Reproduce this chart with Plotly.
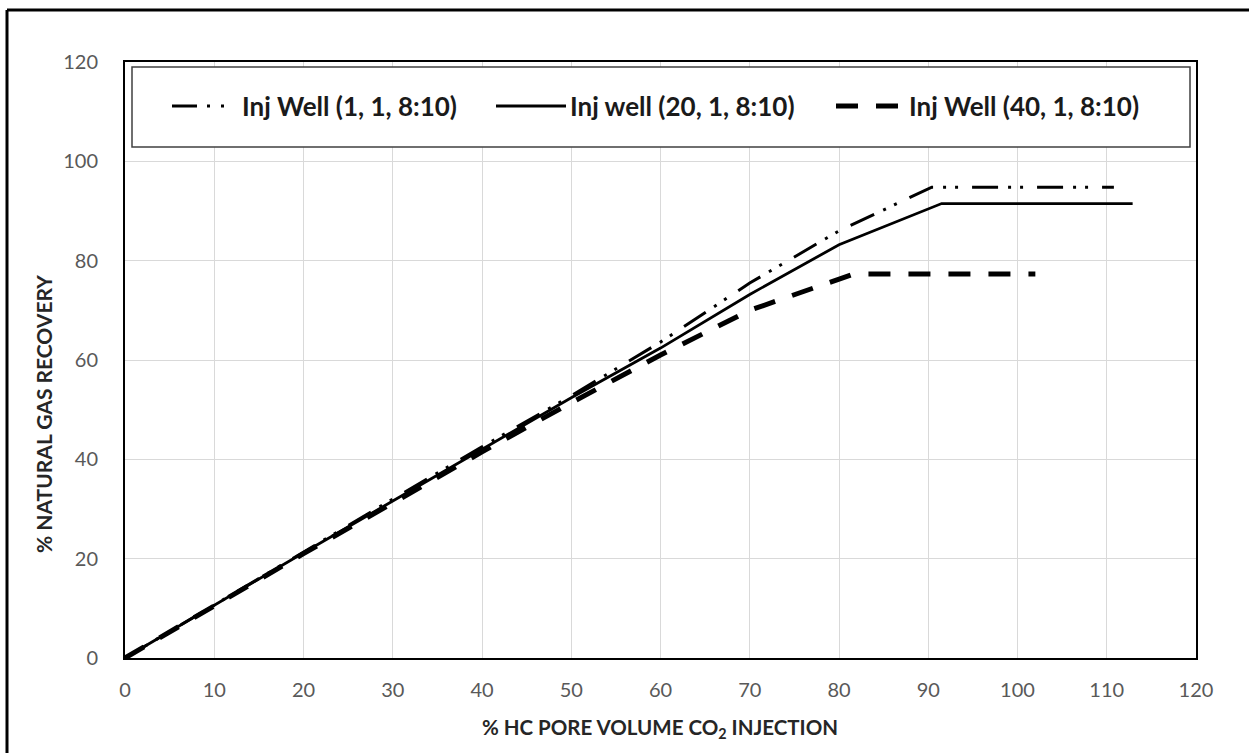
import plotly.graph_objects as go

# Data
x_w1 = [0, 10, 20, 30, 40, 50, 60, 70, 80, 90.4, 110.8]
y_w1 = [0, 10.7, 21.4, 32.0, 42.5, 52.8, 63.6, 75.5, 86.0, 94.8, 94.8]

x_w20 = [0, 10, 20, 30, 40, 50, 60, 70, 80, 91.5, 112.9]
y_w20 = [0, 10.6, 21.2, 31.6, 42.0, 52.4, 62.4, 73.2, 83.2, 91.5, 91.5]

x_w40 = [0, 10, 20, 30, 40, 50, 60, 70, 80, 81.6, 102.0]
y_w40 = [0, 10.5, 21.0, 31.2, 41.5, 51.4, 61.0, 70.0, 76.4, 77.3, 77.3]

names = ["Inj Well (1, 1, 8:10)", "Inj well (20, 1, 8:10)", "Inj Well (40, 1, 8:10)"]
tick_vals = [0, 10, 20, 30, 40, 50, 60, 70, 80, 90, 100, 110, 120]
ytick_vals = [0, 20, 40, 60, 80, 100, 120]

W, H = 1249, 753
ML, MR, MT, MB = 125, 53, 62, 95
pw, ph = W - ML - MR, H - MT - MB

def px_x(p):
    return (p - ML) / pw

def px_y(p):
    return (H - MB - p) / ph

styles = [
    dict(color="black", width=3, dash="26px,10px,3px,9px,3px,14px"),
    dict(color="black", width=2.8),
    dict(color="black", width=5, dash="22px,18px"),
]
legend_styles = [
    dict(color="black", width=3, dash="25px,10px,3px,11px,3px,30px"),
    dict(color="black", width=2.8),
    dict(color="black", width=5, dash="22px,18px"),
]

fig = go.Figure()
for xs, ys, nm, st in zip([x_w1, x_w20, x_w40], [y_w1, y_w20, y_w40], names, styles):
    fig.add_trace(go.Scatter(x=xs, y=ys, mode="lines", name=nm, line=st, showlegend=False))

tickfont = dict(family="Lato, Carlito, Calibri, sans-serif", size=20, color="#595959")
fig.update_xaxes(range=[0, 120], tickvals=tick_vals, showgrid=True, gridcolor="#d9d9d9", gridwidth=1,
                 showline=True, linecolor="black", linewidth=2, mirror=True, zeroline=False,
                 ticks="", tickfont=tickfont, ticklabelstandoff=13)
fig.update_yaxes(range=[0, 120], tickvals=ytick_vals, showgrid=True, gridcolor="#d9d9d9", gridwidth=1,
                 showline=True, linecolor="black", linewidth=2, mirror=True, zeroline=False,
                 ticks="", tickfont=tickfont, ticklabelstandoff=21)

shapes = []
annotations = []
# Legend box
shapes.append(dict(type="rect", xref="paper", yref="paper",
                   x0=px_x(132), x1=px_x(1190), y0=px_y(147), y1=px_y(67),
                   line=dict(color="#404040", width=1.5), fillcolor="white", layer="above"))
# Legend entries (sample start, sample end, text start)
leg_pos = [(172, 228, 240), (496, 566, 568), (836, 902, 907)]
leg_y = 106
legfont = dict(family="Lato, Carlito, Calibri, sans-serif", size=26, color="#1a1a1a", weight="bold")
for (s0, s1, tx), nm, st in zip(leg_pos, names, legend_styles):
    shapes.append(dict(type="line", xref="paper", yref="paper", x0=px_x(s0), x1=px_x(s1),
                       y0=px_y(leg_y), y1=px_y(leg_y), line=st, layer="above"))
    annotations.append(dict(text=nm, xref="paper", yref="paper", x=px_x(tx), y=px_y(leg_y),
                            xanchor="left", yanchor="middle", showarrow=False, font=legfont))

titlefont = dict(family="Lato, Carlito, Calibri, sans-serif", size=20.5, color="#262626", weight="bold")
annotations.append(dict(text="% HC PORE VOLUME CO<sub>2</sub> INJECTION", xref="paper", yref="paper",
                        x=px_x(660), y=px_y(728), xanchor="center", yanchor="middle",
                        showarrow=False, font=titlefont))
annotations.append(dict(text="% NATURAL GAS RECOVERY", xref="paper", yref="paper",
                        x=px_x(43), y=px_y(414), xanchor="center", yanchor="middle",
                        showarrow=False, textangle=-90,
                        font=dict(titlefont, size=21)))

# Outer frame lines (top and left)
shapes.append(dict(type="line", xref="paper", yref="paper", x0=px_x(7), x1=px_x(1249),
                   y0=px_y(10), y1=px_y(10), line=dict(color="black", width=3)))
shapes.append(dict(type="line", xref="paper", yref="paper", x0=px_x(7), x1=px_x(7),
                   y0=px_y(10), y1=px_y(753), line=dict(color="black", width=3)))

fig.update_layout(
    width=W, height=H,
    margin=dict(l=ML, r=MR, t=MT, b=MB),
    paper_bgcolor="white", plot_bgcolor="white",
    showlegend=False,
    shapes=shapes,
    annotations=annotations,
)

fig.write_html("out.html")
